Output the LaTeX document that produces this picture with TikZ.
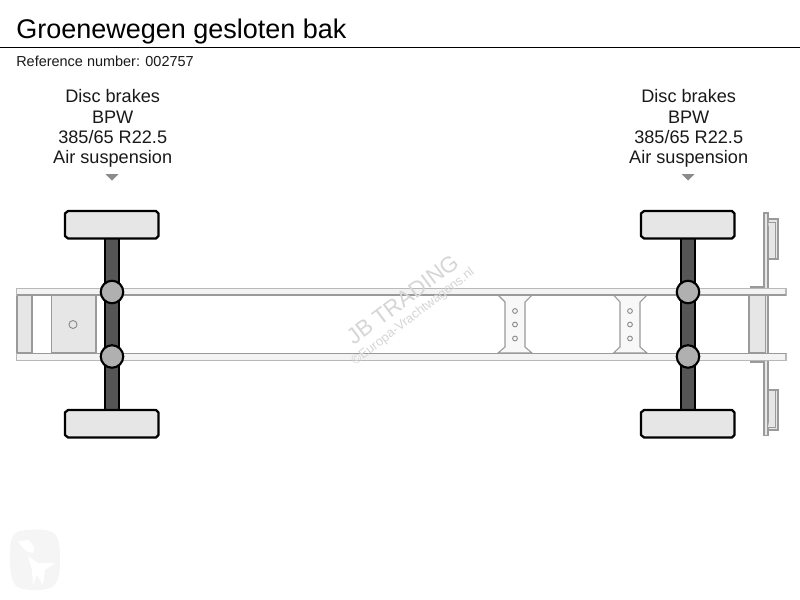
\documentclass[tikz,border=0pt]{standalone}
\usepackage{fontspec}
\setmainfont{Liberation Sans}
\definecolor{edgegray}{HTML}{9A9A9A}
\definecolor{railfill}{HTML}{F3F3F3}
\definecolor{partfill}{HTML}{E6E6E6}
\definecolor{axlefill}{HTML}{555555}
\definecolor{hubfill}{HTML}{B0B0B0}
\definecolor{marktext}{HTML}{D6D6D6}
\tikzset{
  x=0.75pt,y=-0.75pt,
  partbox/.style={draw=edgegray,fill=partfill,line width=0.9pt},
  railbar/.style={draw=edgegray!70,fill=railfill,line width=0.9pt},
  plate/.style={draw=edgegray,fill=partfill,line width=0.9pt},
  crossm/.style={draw=edgegray,fill=railfill!60,line width=0.8pt},
  hole/.style={draw=edgegray!90!black,line width=0.7pt},
  tyre/.style={draw=black,fill=partfill,line width=1.7pt,line join=round},
  axlebar/.style={draw=black,fill=axlefill,line width=1.3pt},
  hub/.style={circle,draw=black,fill=hubfill,line width=1.6pt,minimum size=22.5*0.75pt,inner sep=0pt},
  axlelabel/.style={align=center,font=\fontsize{13.6}{15.35}\selectfont,inner sep=0pt,text=black!90},
  pointer/.style={fill=edgegray!90!black,draw=none},
}
\newcommand{\axleassembly}[2]{%
  \draw[axlebar] (#1-7,238) rectangle (#1+7,411);
  \draw[tyre] (#1-44,211) -- (#1+44,211) -- (#1+46.5,213.5) -- (#1+46.5,236) -- (#1+44,238.5) -- (#1-44,238.5) -- (#1-47,236) -- (#1-47,213.5) -- cycle;
  \draw[tyre] (#1-44,410) -- (#1+44,410) -- (#1+46.5,412.5) -- (#1+46.5,435) -- (#1+44,437.5) -- (#1-44,437.5) -- (#1-47,435) -- (#1-47,412.5) -- cycle;
  \node[hub] (#2a) at (#1,292) {};
  \node[hub] (#2b) at (#1,356.5) {};
  \node[axlelabel,anchor=base] (#2l) at (#1.7,102.7) {Disc brakes};
  \node[axlelabel,anchor=base] (#2m) at (#1.7,123) {BPW};
  \node[axlelabel,anchor=base] (#2n) at (#1.7,143.3) {385/65 R22.5};
  \node[axlelabel,anchor=base] (#2o) at (#1.7,163.6) {Air suspension};
  \fill[pointer] (#1-6.5,174) -- (#1+6.5,174) -- (#1,180.5) -- cycle;
}
\newcommand{\crossmember}[5]{%
  \draw[crossm] (#1,295) -- (#2,302) -- (#2,347) -- (#1,353) -- (#5,353) -- (#4,347) -- (#4,302) -- (#5,295) -- cycle;
  \draw[hole] (#3,311) circle (2.4);
  \draw[hole] (#3,324.5) circle (2.4);
  \draw[hole] (#3,338.5) circle (2.4);
}
\begin{document}
\begin{tikzpicture}
\useasboundingbox (0,0) rectangle (800,600);
\fill[white] (0,0) rectangle (800,600);
% heading
\node[anchor=base west,inner sep=0pt,font=\fontsize{20.25}{22}\selectfont] (title) at (16,38) {Groenewegen gesloten bak};
\draw[black,line width=0.75pt] (0,47.5) -- (800,47.5);
\node[anchor=base west,inner sep=0pt,font=\fontsize{10.85}{12}\selectfont,text=black!90] (refno) at (16,66) {Reference number: 002757};
% logo
\fill[black!4] (20,531) .. controls (35,529) and (45,529) .. (52,532) .. controls (59,536) and (60,545) .. (60,560) .. controls (60,575) and (58,585) .. (50,588) .. controls (40,591) and (30,591) .. (20,588) .. controls (12,585) and (10,575) .. (10,555) .. controls (10,540) and (12,533) .. (20,531) -- cycle;
\fill[white] (18,541) -- (28,540) .. controls (34,544) and (36,550) .. (33,553) .. controls (27,553) and (22,548) .. (18,541) -- cycle;
\fill[white] (28,556) -- (38,563) -- (55,563) -- (45,570) -- (43,585) -- (37,575) -- (33,585) -- (32,570) -- cycle;
% back parts under the rails
\draw[partbox] (17,295) rectangle (32,353);
\draw[partbox] (51.5,295) rectangle (96,353);
\draw[hole] (73,324.5) circle (4);
% rear assembly
\draw[plate] (764,213) -- (768,213) -- (768,435.5) -- (764,435.5) -- (764,362) -- (751,362) -- (751,287) -- (764,287) -- cycle;
\fill[white] (752,289) rectangle (763.5,361);
\fill[white] (768.6,289) rectangle (790,361);
\draw[plate] (768,219) rectangle (778,259);
\draw[plate,line width=0.6pt] (768,222) -- (775,222) -- (775,258);
\draw[plate] (768,390) rectangle (778,430);
\draw[plate,line width=0.6pt] (768,427) -- (775,427) -- (775,391);
\draw[partbox] (749,295) rectangle (765.5,353);
% cross members
\crossmember{498}{505}{515}{525}{532}
\crossmember{613.5}{620}{630}{640}{647}
% rails
\draw[railbar] (16.5,288.5) rectangle (786,295);
\draw[railbar] (16.5,353.5) rectangle (786,360.5);
\draw[edgegray,line width=1pt] (16.5,295) -- (786,295);
\draw[edgegray,line width=1pt] (16.5,353.5) -- (786,353.5);
% axles
\axleassembly{112}{front}
\axleassembly{688}{rear}
% watermark
\node[rotate=37,text=marktext,inner sep=0pt,font=\fontsize{16.8}{20}\selectfont] (mark) at (402.5,299.5) {JB TRADING};
\node[rotate=37.5,text=marktext,inner sep=0pt,font=\fontsize{9.7}{11}\selectfont] (site) at (413,317) {©Europa-Vrachtwagens.nl};
\end{tikzpicture}
\end{document}
